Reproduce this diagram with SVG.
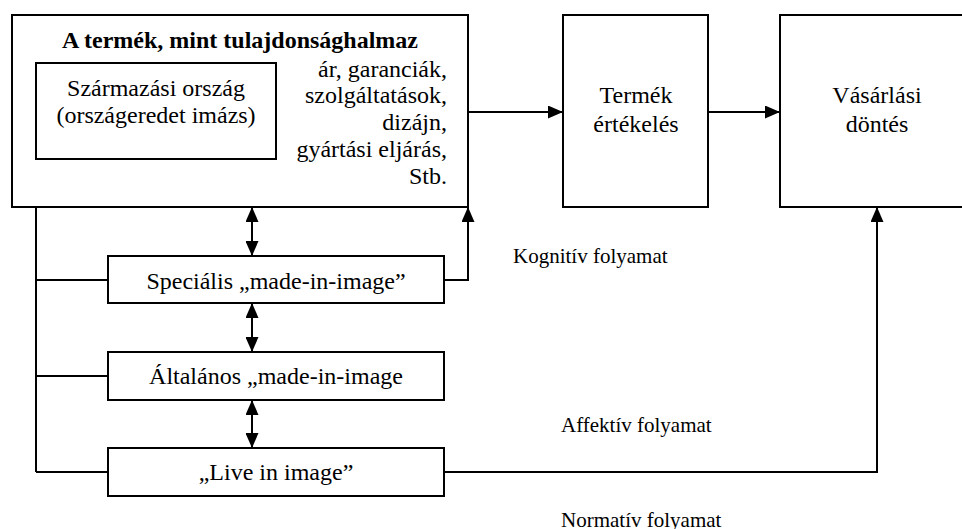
<svg xmlns="http://www.w3.org/2000/svg" width="962" height="529" viewBox="0 0 962 529">
  <style>
    .box { fill: #ffffff; stroke: #000000; stroke-width: 2; }
    .txt { font-family: "Liberation Serif", "Times New Roman", serif; font-size: 24px; fill: #000000; }
    .lbl { font-size: 21px; }
    .mid { text-anchor: middle; }
    .end { text-anchor: end; }
    .bold { font-weight: bold; }
    .conn { fill: none; stroke: #000000; stroke-width: 2; }
    .arrow { marker-end: url(#head); }
    .both { marker-start: url(#head); marker-end: url(#head); }
  </style>
  <defs>
    <marker id="head" markerUnits="userSpaceOnUse" markerWidth="15" markerHeight="13" refX="15" refY="6.5" orient="auto-start-reverse">
      <path d="M0,0 L15,6.5 L0,13 Z" fill="#000000"/>
    </marker>
  </defs>

  <rect width="962" height="529" fill="#ffffff"/>

  <!-- connectors -->
  <g id="connectors">
    <path class="conn arrow" d="M468,112 H563"/>
    <path class="conn arrow" d="M708,112 H780"/>
    <path class="conn both" d="M252,207 V256"/>
    <path class="conn both" d="M252,303 V352"/>
    <path class="conn both" d="M252,400 V448"/>
    <path class="conn" d="M36,207 V472 M36,280 H108 M36,376 H108 M36,472 H108"/>
    <path class="conn arrow" d="M444,280 H468 V207"/>
    <path class="conn arrow" d="M444,472 H877 V207"/>
  </g>

  <!-- product as a set of attributes -->
  <g id="product">
    <rect class="box" x="12" y="15" width="456" height="192"/>
    <text class="txt mid bold" x="240" y="48">A termék, mint tulajdonsághalmaz</text>
    <text class="txt end" x="447" y="77">ár, garanciák,</text>
    <text class="txt end" x="447" y="103">szolgáltatások,</text>
    <text class="txt end" x="447" y="130">dizájn,</text>
    <text class="txt end" x="447" y="157">gyártási eljárás,</text>
    <text class="txt end" x="447" y="184">Stb.</text>
  </g>

  <g id="origin">
    <rect class="box" x="36" y="63" width="240" height="96"/>
    <text class="txt mid" x="156" y="96">Származási ország</text>
    <text class="txt mid" x="156" y="123">(országeredet imázs)</text>
  </g>

  <g id="evaluation">
    <rect class="box" x="563" y="15" width="145" height="192"/>
    <text class="txt mid" x="636" y="103">Termék</text>
    <text class="txt mid" x="636" y="132">értékelés</text>
  </g>

  <g id="decision">
    <rect class="box" x="780" y="15" width="200" height="192"/>
    <text class="txt mid" x="877" y="103">Vásárlási</text>
    <text class="txt mid" x="877" y="132">döntés</text>
  </g>

  <g id="special">
    <rect class="box" x="108" y="256" width="336" height="47"/>
    <text class="txt mid" x="276" y="289">Speciális „made-in-image”</text>
  </g>

  <g id="general">
    <rect class="box" x="108" y="352" width="336" height="48"/>
    <text class="txt mid" x="276" y="384">Általános „made-in-image</text>
  </g>

  <g id="live">
    <rect class="box" x="108" y="448" width="336" height="48"/>
    <text class="txt mid" x="276" y="480">„Live in image”</text>
  </g>

  <!-- process labels -->
  <g id="labels">
    <text class="txt lbl" x="513" y="263">Kognitív folyamat</text>
    <text class="txt lbl" x="561" y="432">Affektív folyamat</text>
    <text class="txt lbl" x="561" y="527">Normatív folyamat</text>
  </g>
</svg>
